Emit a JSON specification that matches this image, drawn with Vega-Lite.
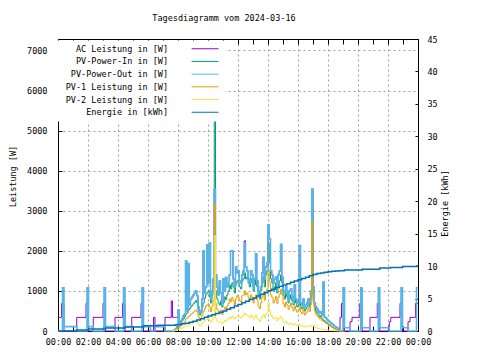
{
"$schema": "https://vega.github.io/schema/vega-lite/v6.json",
"width": 360, "height": 292,
"autosize": {"type": "none"},
"padding": {"left": 58, "top": 39, "right": 62, "bottom": 29},
"background": "white",
"title": {"text": "Tagesdiagramm vom 2024-03-16", "font": "DejaVu Sans Mono", "fontSize": 8.5, "fontWeight": "normal", "color": "black", "dx": -14, "offset": 13},
"config": {"view": {"stroke": null}, "font": "DejaVu Sans Mono", "line": {"strokeWidth": 1, "interpolate": "step-after"}},
"datasets": {
"p": [
{"t":0,"ac":340,"o":0},{"t":14,"ac":690,"o":0},{"t":18,"ac":690,"o":1080},{"t":24,"ac":0,"o":110},
{"t":75,"ac":340,"o":0},{"t":112,"ac":690,"o":0},{"t":116,"ac":690,"o":1080},{"t":122,"ac":0,"o":110},
{"t":141,"ac":340,"o":0},{"t":180,"ac":690,"o":0},{"t":184,"ac":690,"o":1080},{"t":190,"ac":0,"o":110},
{"t":228,"ac":340,"o":0},{"t":258,"ac":690,"o":0},{"t":262,"ac":690,"o":1080},{"t":268,"ac":0,"o":110},
{"t":295,"ac":340,"o":0},{"t":332,"ac":690,"o":0},{"t":336,"ac":690,"o":1080},{"t":342,"ac":0,"o":110},
{"t":370,"ac":0,"o":0},{"t":382,"ac":340,"o":0},{"t":388,"ac":0,"o":110},{"t":428,"ac":340,"o":0},
{"t":453,"ac":750,"o":0},{"t":458,"ac":340,"o":0},
{"t":460,"ac":340,"i":20,"o":0,"a":10,"b":10},
{"t":465,"ac":340,"i":40,"o":30,"a":25,"b":15},
{"t":470,"ac":340,"i":60,"o":60,"a":40,"b":20},
{"t":475,"ac":340,"i":90,"o":120,"a":60,"b":30},
{"t":480,"ac":520,"i":120,"o":520,"a":80,"b":40},
{"t":485,"ac":140,"i":150,"o":140,"a":100,"b":50},
{"t":490,"ac":250,"i":200,"o":250,"a":140,"b":60},
{"t":495,"ac":300,"i":260,"o":300,"a":180,"b":80},
{"t":500,"ac":380,"i":300,"o":380,"a":200,"b":100},
{"t":505,"ac":420,"i":350,"o":420,"a":240,"b":110},
{"t":510,"ac":1750,"i":420,"o":1750,"a":300,"b":120},
{"t":515,"ac":500,"i":450,"o":500,"a":320,"b":130},
{"t":520,"ac":1680,"i":520,"o":1680,"a":360,"b":160},
{"t":525,"ac":650,"i":560,"o":650,"a":380,"b":180},
{"t":530,"ac":800,"i":600,"o":800,"a":420,"b":180},
{"t":535,"ac":850,"i":640,"o":850,"a":440,"b":200},
{"t":540,"ac":900,"i":680,"o":900,"a":470,"b":210},
{"t":545,"ac":950,"i":720,"o":950,"a":500,"b":220},
{"t":550,"ac":1000,"i":760,"o":1000,"a":520,"b":240},
{"t":555,"ac":880,"i":700,"o":880,"a":480,"b":220},
{"t":560,"ac":600,"i":520,"o":600,"a":350,"b":170},
{"t":565,"ac":450,"i":400,"o":450,"a":270,"b":130},
{"t":570,"ac":500,"i":450,"o":500,"a":300,"b":150},
{"t":575,"ac":800,"i":600,"o":800,"a":400,"b":200},
{"t":580,"ac":2000,"i":700,"o":2000,"a":480,"b":220},
{"t":585,"ac":950,"i":820,"o":950,"a":560,"b":260},
{"t":590,"ac":1100,"i":900,"o":1100,"a":620,"b":280},
{"t":595,"ac":2150,"i":950,"o":2150,"a":650,"b":300},
{"t":600,"ac":1200,"i":1000,"o":1200,"a":680,"b":320},
{"t":605,"ac":2200,"i":850,"o":2200,"a":580,"b":270},
{"t":610,"ac":800,"i":700,"o":800,"a":480,"b":220},
{"t":615,"ac":1000,"i":900,"o":1000,"a":620,"b":280},
{"t":620,"ac":1300,"i":1100,"o":1300,"a":760,"b":340},
{"t":625,"ac":3540,"i":5600,"o":3540,"a":3170,"b":2380},
{"t":630,"ac":1400,"i":1000,"o":1400,"a":680,"b":320},
{"t":635,"ac":1100,"i":800,"o":1100,"a":540,"b":260},
{"t":640,"ac":900,"i":700,"o":900,"a":480,"b":220},
{"t":645,"ac":1250,"i":650,"o":1250,"a":440,"b":210},
{"t":650,"ac":950,"i":750,"o":950,"a":520,"b":230},
{"t":655,"ac":700,"i":600,"o":700,"a":410,"b":190},
{"t":660,"ac":1300,"i":700,"o":1300,"a":480,"b":220},
{"t":665,"ac":1000,"i":850,"o":1000,"a":590,"b":260},
{"t":670,"ac":1340,"i":780,"o":1340,"a":540,"b":240},
{"t":675,"ac":1100,"i":900,"o":1100,"a":620,"b":280},
{"t":680,"ac":1200,"i":1000,"o":1200,"a":690,"b":310},
{"t":685,"ac":1400,"i":1150,"o":1400,"a":800,"b":350},
{"t":690,"ac":1990,"i":1050,"o":1990,"a":730,"b":320},
{"t":695,"ac":2000,"i":1200,"o":2000,"a":840,"b":360},
{"t":700,"ac":1300,"i":1100,"o":1300,"a":760,"b":340},
{"t":705,"ac":1100,"i":950,"o":1100,"a":650,"b":300},
{"t":710,"ac":1600,"i":1150,"o":1600,"a":800,"b":350},
{"t":715,"ac":1450,"i":1250,"o":1450,"a":880,"b":370},
{"t":720,"ac":1500,"i":1200,"o":1500,"a":840,"b":360},
{"t":725,"ac":1250,"i":1100,"o":1250,"a":760,"b":340},
{"t":730,"ac":1200,"i":1050,"o":1200,"a":730,"b":320},
{"t":735,"ac":1400,"i":1250,"o":1400,"a":880,"b":370},
{"t":740,"ac":1500,"i":1300,"o":1500,"a":900,"b":400},
{"t":745,"ac":2250,"i":1450,"o":2200,"a":1000,"b":450},
{"t":750,"ac":1600,"i":1300,"o":1600,"a":900,"b":400},
{"t":755,"ac":1500,"i":1350,"o":1500,"a":950,"b":400},
{"t":760,"ac":1300,"i":1200,"o":1300,"a":840,"b":360},
{"t":765,"ac":1200,"i":1100,"o":1200,"a":770,"b":330},
{"t":770,"ac":1500,"i":1300,"o":1500,"a":900,"b":400},
{"t":775,"ac":1400,"i":1200,"o":1400,"a":840,"b":360},
{"t":780,"ac":1100,"i":1000,"o":1100,"a":700,"b":300},
{"t":785,"ac":1300,"i":1150,"o":1300,"a":800,"b":350},
{"t":790,"ac":1930,"i":1300,"o":1930,"a":900,"b":400},
{"t":795,"ac":1250,"i":1100,"o":1250,"a":770,"b":330},
{"t":800,"ac":1000,"i":900,"o":1000,"a":620,"b":280},
{"t":805,"ac":900,"i":800,"o":900,"a":560,"b":240},
{"t":810,"ac":1100,"i":1000,"o":1100,"a":700,"b":300},
{"t":815,"ac":1450,"i":1200,"o":1450,"a":840,"b":360},
{"t":820,"ac":1840,"i":1350,"o":1840,"a":940,"b":410},
{"t":825,"ac":1300,"i":1100,"o":1300,"a":770,"b":330},
{"t":830,"ac":1600,"i":1400,"o":1600,"a":980,"b":420},
{"t":835,"ac":1700,"i":1500,"o":1700,"a":1050,"b":450},
{"t":840,"ac":2650,"i":2200,"o":2650,"a":1500,"b":700},
{"t":845,"ac":2300,"i":1700,"o":2300,"a":1200,"b":500},
{"t":850,"ac":1500,"i":1300,"o":1500,"a":900,"b":400},
{"t":855,"ac":1400,"i":1200,"o":1400,"a":840,"b":360},
{"t":860,"ac":1200,"i":1000,"o":1200,"a":700,"b":300},
{"t":865,"ac":1300,"i":1100,"o":1300,"a":780,"b":320},
{"t":870,"ac":1350,"i":1200,"o":1350,"a":860,"b":340},
{"t":875,"ac":1100,"i":950,"o":1100,"a":690,"b":260},
{"t":880,"ac":1400,"i":1150,"o":1400,"a":840,"b":310},
{"t":885,"ac":1500,"i":1250,"o":1500,"a":920,"b":330},
{"t":890,"ac":2160,"i":1400,"o":2160,"a":1040,"b":360},
{"t":895,"ac":1350,"i":1200,"o":1350,"a":900,"b":300},
{"t":900,"ac":1000,"i":900,"o":1000,"a":680,"b":220},
{"t":905,"ac":950,"i":800,"o":950,"a":600,"b":200},
{"t":910,"ac":1100,"i":950,"o":1100,"a":720,"b":230},
{"t":915,"ac":1000,"i":850,"o":1000,"a":650,"b":200},
{"t":920,"ac":800,"i":700,"o":800,"a":540,"b":160},
{"t":925,"ac":1000,"i":800,"o":1000,"a":620,"b":180},
{"t":930,"ac":1050,"i":900,"o":1050,"a":700,"b":200},
{"t":935,"ac":850,"i":750,"o":850,"a":580,"b":170},
{"t":940,"ac":750,"i":650,"o":750,"a":500,"b":150},
{"t":945,"ac":1150,"i":800,"o":1150,"a":620,"b":180},
{"t":950,"ac":800,"i":700,"o":800,"a":540,"b":160},
{"t":955,"ac":700,"i":600,"o":700,"a":470,"b":130},
{"t":960,"ac":750,"i":650,"o":750,"a":510,"b":140},
{"t":965,"ac":2130,"i":800,"o":2130,"a":630,"b":170},
{"t":970,"ac":700,"i":600,"o":700,"a":470,"b":130},
{"t":975,"ac":650,"i":550,"o":650,"a":430,"b":120},
{"t":980,"ac":800,"i":650,"o":800,"a":520,"b":130},
{"t":985,"ac":600,"i":500,"o":600,"a":400,"b":100},
{"t":990,"ac":650,"i":550,"o":650,"a":440,"b":110},
{"t":995,"ac":700,"i":600,"o":700,"a":480,"b":120},
{"t":1000,"ac":800,"i":700,"o":800,"a":570,"b":130},
{"t":1005,"ac":700,"i":600,"o":700,"a":490,"b":110},
{"t":1010,"ac":1000,"i":800,"o":1000,"a":660,"b":140},
{"t":1015,"ac":3540,"i":2880,"o":3540,"a":2750,"b":130},
{"t":1020,"ac":1100,"i":900,"o":1100,"a":750,"b":150},
{"t":1025,"ac":700,"i":600,"o":700,"a":500,"b":100},
{"t":1030,"ac":600,"i":500,"o":600,"a":420,"b":80},
{"t":1035,"ac":550,"i":450,"o":550,"a":380,"b":70},
{"t":1040,"ac":500,"i":400,"o":500,"a":340,"b":60},
{"t":1045,"ac":450,"i":350,"o":450,"a":300,"b":50},
{"t":1050,"ac":480,"i":380,"o":480,"a":330,"b":50},
{"t":1055,"ac":400,"i":300,"o":400,"a":260,"b":40},
{"t":1060,"ac":1220,"i":270,"o":1220,"a":235,"b":35},
{"t":1065,"ac":350,"i":250,"o":350,"a":220,"b":30},
{"t":1070,"ac":320,"i":220,"o":320,"a":195,"b":25},
{"t":1075,"ac":280,"i":200,"o":280,"a":180,"b":20},
{"t":1080,"ac":250,"i":170,"o":250,"a":150,"b":20},
{"t":1085,"ac":230,"i":150,"o":230,"a":135,"b":15},
{"t":1090,"ac":200,"i":120,"o":200,"a":110,"b":10},
{"t":1095,"ac":170,"i":100,"o":170,"a":90,"b":10},
{"t":1100,"ac":150,"i":80,"o":150,"a":70,"b":10},
{"t":1105,"ac":120,"i":60,"o":120,"a":55,"b":5},
{"t":1110,"ac":100,"i":40,"o":100,"a":35,"b":5},
{"t":1115,"ac":80,"i":20,"o":80,"a":20,"b":0},
{"t":1120,"ac":50,"i":0,"o":50,"a":0,"b":0},
{"t":1128,"ac":340,"o":0},{"t":1134,"ac":690,"o":0},{"t":1140,"ac":690,"o":1080},{"t":1146,"ac":0,"o":80},{"t":1150,"a":0},
{"t":1168,"ac":230,"o":0},{"t":1176,"ac":340,"o":0},{"t":1207,"ac":690,"o":0},{"t":1211,"ac":690,"o":1080},{"t":1217,"ac":0,"o":80},
{"t":1248,"ac":340,"o":0},{"t":1277,"ac":690,"o":0},{"t":1281,"ac":690,"o":1080},{"t":1287,"ac":0,"o":80},
{"t":1325,"ac":230,"o":0},{"t":1331,"ac":340,"o":0},{"t":1368,"ac":690,"o":0},{"t":1372,"ac":690,"o":1080},{"t":1378,"ac":0,"o":80},
{"t":1400,"ac":230,"o":0},{"t":1408,"ac":340,"o":0},{"t":1430,"ac":690,"o":0},{"t":1434,"ac":690,"o":1080},{"t":1440,"ac":690,"o":1080}
],
"en": [
{"t":0,"e":0},{"t":75,"e":0.15},{"t":122,"e":0.3},{"t":190,"e":0.45},{"t":268,"e":0.6},{"t":342,"e":0.8},{"t":400,"e":0.9},{"t":470,"e":0.95},
{"t":480,"e":1.0},{"t":495,"e":1.1},{"t":510,"e":1.2},{"t":525,"e":1.35},{"t":540,"e":1.5},{"t":555,"e":1.7},{"t":570,"e":1.9},{"t":585,"e":2.1},
{"t":600,"e":2.3},{"t":615,"e":2.5},{"t":630,"e":2.7},{"t":645,"e":2.9},{"t":660,"e":3.1},{"t":675,"e":3.35},{"t":690,"e":3.6},{"t":705,"e":3.85},
{"t":720,"e":4.1},{"t":735,"e":4.35},{"t":750,"e":4.6},{"t":765,"e":4.85},{"t":780,"e":5.1},{"t":795,"e":5.4},{"t":810,"e":5.65},{"t":825,"e":5.9},
{"t":840,"e":6.2},{"t":855,"e":6.45},{"t":870,"e":6.7},{"t":885,"e":6.9},{"t":900,"e":7.1},{"t":915,"e":7.3},{"t":930,"e":7.5},{"t":945,"e":7.7},
{"t":960,"e":7.9},{"t":975,"e":8.1},{"t":990,"e":8.3},{"t":1005,"e":8.5},{"t":1020,"e":8.7},{"t":1035,"e":8.85},{"t":1050,"e":8.95},{"t":1065,"e":9.05},
{"t":1080,"e":9.15},{"t":1095,"e":9.2},{"t":1110,"e":9.25},{"t":1125,"e":9.3},{"t":1146,"e":9.4},{"t":1217,"e":9.5},{"t":1287,"e":9.7},{"t":1330,"e":9.8},
{"t":1378,"e":9.95},{"t":1434,"e":10.0},{"t":1440,"e":10.0}
]
},
"resolve": {"scale": {"y": "independent"}, "axis": {"x": "independent"}},
"layer": [
{
"encoding": {
"x": {"field": "t", "type": "quantitative", "scale": {"domain": [0, 1440], "nice": false, "zero": false},
"axis": {"orient": "bottom", "title": null, "values": [0,60,120,180,240,300,360,420,480,540,600,660,720,780,840,900,960,1020,1080,1140,1200,1260,1320,1380,1440],
"labelExpr": "datum.value % 120 == 0 ? ((floor(datum.value/60) % 24) < 10 ? '0' : '') + (floor(datum.value/60) % 24) + ':00' : ''",
"labelFont": "DejaVu Sans Mono", "labelFontSize": 8.5, "labelColor": "black", "labelFlush": false, "labelOverlap": false, "labelPadding": 11,
"tickSize": -5, "tickColor": "black", "domainColor": "black",
"grid": true, "gridColor": "#a0a0a0", "gridDash": [2, 3], "gridOpacity": {"condition": {"test": "datum.value % 120 != 0", "value": 0}, "value": 1}}}
},
"layer": [
{"data": {"name": "p"}, "transform": [{"filter": "isValid(datum.ac)"}], "mark": {"type": "line"},
"encoding": {
"y": {"field": "ac", "type": "quantitative", "scale": {"domain": [0, 7285], "nice": false},
"axis": {"orient": "left", "title": "Leistung [W]", "values": [0,1000,2000,3000,4000,5000,6000,7000], "format": "d",
"labelFont": "DejaVu Sans Mono", "labelFontSize": 8.5, "labelColor": "black", "labelPadding": 15,
"titleFont": "DejaVu Sans Mono", "titleFontSize": 8.5, "titleFontWeight": "normal", "titleColor": "black", "titlePadding": 9.5, "titleY": 137,
"tickSize": -4, "tickColor": "black", "domainColor": "black",
"grid": true, "gridColor": "#a0a0a0", "gridDash": [2, 3]}},
"color": {"datum": "AC Leistung in [W]", "type": "nominal",
"scale": {"domain": ["AC Leistung in [W]", "PV-Power-In in [W]", "PV-Power-Out in [W]", "PV-1 Leistung in [W]", "PV-2 Leistung in [W]", "Energie in [kWh]"],
"range": ["#9400d3", "#009e73", "#56b4e9", "#e69f00", "#f0e442", "#0072b2"]},
"legend": {"orient": "none", "legendX": 0, "legendY": 1.5, "title": null, "symbolType": "M-5,0H5", "symbolSize": 29, "symbolStrokeWidth": 1.2,
"symbolOffset": 138.8, "labelAlign": "right", "labelOffset": -41.2, "labelFont": "DejaVu Sans Mono", "labelFontSize": 8.5, "labelColor": "black", "labelLimit": 0,
"rowPadding": 3.7, "fillColor": "white", "padding": 4}}
}},
{"data": {"name": "p"}, "transform": [{"filter": "isValid(datum.i)"}], "mark": {"type": "line"},
"encoding": {"y": {"field": "i", "type": "quantitative"}, "color": {"datum": "PV-Power-In in [W]", "type": "nominal"}}},
{"data": {"name": "p"}, "transform": [{"filter": "isValid(datum.o)"}], "mark": {"type": "line", "strokeWidth": 1.6},
"encoding": {"y": {"field": "o", "type": "quantitative"}, "color": {"datum": "PV-Power-Out in [W]", "type": "nominal"}}},
{"data": {"name": "p"}, "transform": [{"filter": "isValid(datum.a)"}], "mark": {"type": "line"},
"encoding": {"y": {"field": "a", "type": "quantitative"}, "color": {"datum": "PV-1 Leistung in [W]", "type": "nominal"}}},
{"data": {"name": "p"}, "transform": [{"filter": "isValid(datum.b)"}], "mark": {"type": "line"},
"encoding": {"y": {"field": "b", "type": "quantitative"}, "color": {"datum": "PV-2 Leistung in [W]", "type": "nominal"}}}
]
},
{"data": {"name": "en"}, "mark": {"type": "line", "strokeWidth": 1.5},
"encoding": {
"x": {"field": "t", "type": "quantitative", "scale": {"domain": [0, 1440], "nice": false, "zero": false},
"axis": {"orient": "top", "title": null, "labels": false, "grid": false, "values": [0,60,120,180,240,300,360,420,480,540,600,660,720,780,840,900,960,1020,1080,1140,1200,1260,1320,1380,1440],
"tickSize": -5, "tickColor": "black", "domainColor": "black"}},
"y": {"field": "e", "type": "quantitative", "scale": {"domain": [0, 45], "nice": false},
"axis": {"orient": "right", "title": "Energie [kWh]", "values": [0,5,10,15,20,25,30,35,40,45], "grid": false,
"labelFont": "DejaVu Sans Mono", "labelFontSize": 8.5, "labelColor": "black", "labelPadding": 12,
"titleFont": "DejaVu Sans Mono", "titleFontSize": 8.5, "titleFontWeight": "normal", "titleColor": "black", "titleAngle": 270, "titlePadding": 12, "titleY": 164,
"tickSize": -3, "tickColor": "black", "domainColor": "black"}},
"color": {"datum": "Energie in [kWh]", "type": "nominal"}
}}
]
}
